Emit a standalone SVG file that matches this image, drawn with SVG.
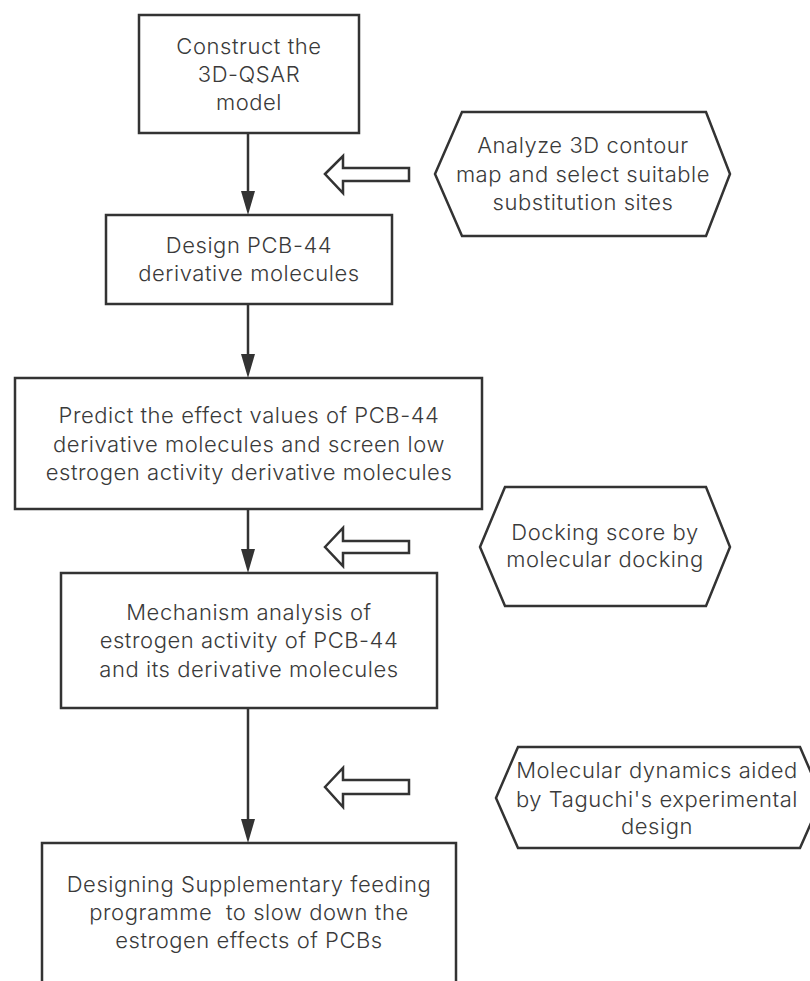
<svg xmlns="http://www.w3.org/2000/svg" width="810" height="981" viewBox="0 0 810 981">
<style>
.box{fill:#fff;stroke:#333;stroke-width:2.5}
.hex{fill:#fff;stroke:#333;stroke-width:2.5;stroke-linejoin:miter}
.t{font-family:Inter,"Open Sans","DejaVu Sans",sans-serif;font-size:22px;font-weight:300;letter-spacing:0.55px;fill:#3a3a3a;text-anchor:middle}
.conn{stroke:#333;stroke-width:2.5;fill:none}
.head{fill:#333}
.hollow{fill:#fff;stroke:#333;stroke-width:2.5;stroke-linejoin:miter}
</style>
<rect width="810" height="981" fill="#fff"/>
<g id="connectors">
<line class="conn" x1="248" y1="133" x2="248" y2="195"/>
<path class="head" d="M241,191 L255,191 L248,215 Z"/>
<line class="conn" x1="248" y1="304" x2="248" y2="358"/>
<path class="head" d="M241,354 L255,354 L248,378 Z"/>
<line class="conn" x1="248" y1="509" x2="248" y2="553"/>
<path class="head" d="M241,549 L255,549 L248,573 Z"/>
<line class="conn" x1="248" y1="708" x2="248" y2="823"/>
<path class="head" d="M241,819 L255,819 L248,843 Z"/>
<polygon class="hollow" points="325,174 343,156 343,168 409,168 409,181 343,181 343,193"/>
<polygon class="hollow" points="325,547 343,528 343,541 409,541 409,553 343,553 343,566"/>
<polygon class="hollow" points="325,787 343,768 343,780 409,780 409,794 343,794 343,807"/>
</g>
<g id="n1">
<rect class="box" x="139" y="15" width="220" height="118"/>
<text class="t" x="249" y="54">Construct the</text>
<text class="t" x="249" y="82">3D-QSAR</text>
<text class="t" x="249" y="110">model</text>
</g>
<g id="h1">
<polygon class="hex" points="462,112 706,112 730,174 706,236 462,236 435,174"/>
<text class="t" x="583" y="153">Analyze 3D contour</text>
<text class="t" x="583" y="182">map and select suitable</text>
<text class="t" x="583" y="210">substitution sites</text>
</g>
<g id="n2">
<rect class="box" x="106" y="215" width="286" height="89"/>
<text class="t" x="249" y="253">Design PCB-44</text>
<text class="t" x="249" y="281">derivative molecules</text>
</g>
<g id="n3">
<rect class="box" x="15" y="378" width="467" height="131"/>
<text class="t" x="249" y="423">Predict the effect values of PCB-44</text>
<text class="t" x="249" y="452">derivative molecules and screen low</text>
<text class="t" x="249" y="480">estrogen activity derivative molecules</text>
</g>
<g id="h2">
<polygon class="hex" points="505,487 706,487 730,547 706,606 505,606 480,547"/>
<text class="t" x="605" y="540">Docking score by</text>
<text class="t" x="605" y="567">molecular docking</text>
</g>
<g id="n4">
<rect class="box" x="61" y="573" width="376" height="135"/>
<text class="t" x="249" y="620">Mechanism analysis of</text>
<text class="t" x="249" y="648">estrogen activity of PCB-44</text>
<text class="t" x="249" y="677">and its derivative molecules</text>
</g>
<g id="h3">
<polygon class="hex" points="518,747 800,747 822,798 800,848 518,848 496,798"/>
<text class="t" x="657" y="778">Molecular dynamics aided</text>
<text class="t" x="657" y="807">by Taguchi's experimental</text>
<text class="t" x="657" y="834">design</text>
</g>
<g id="n5">
<rect class="box" x="42" y="843" width="414" height="160"/>
<text class="t" x="249" y="892">Designing Supplementary feeding</text>
<text class="t" x="249" y="920" xml:space="preserve">programme  to slow down the</text>
<text class="t" x="249" y="948">estrogen effects of PCBs</text>
</g>
</svg>
